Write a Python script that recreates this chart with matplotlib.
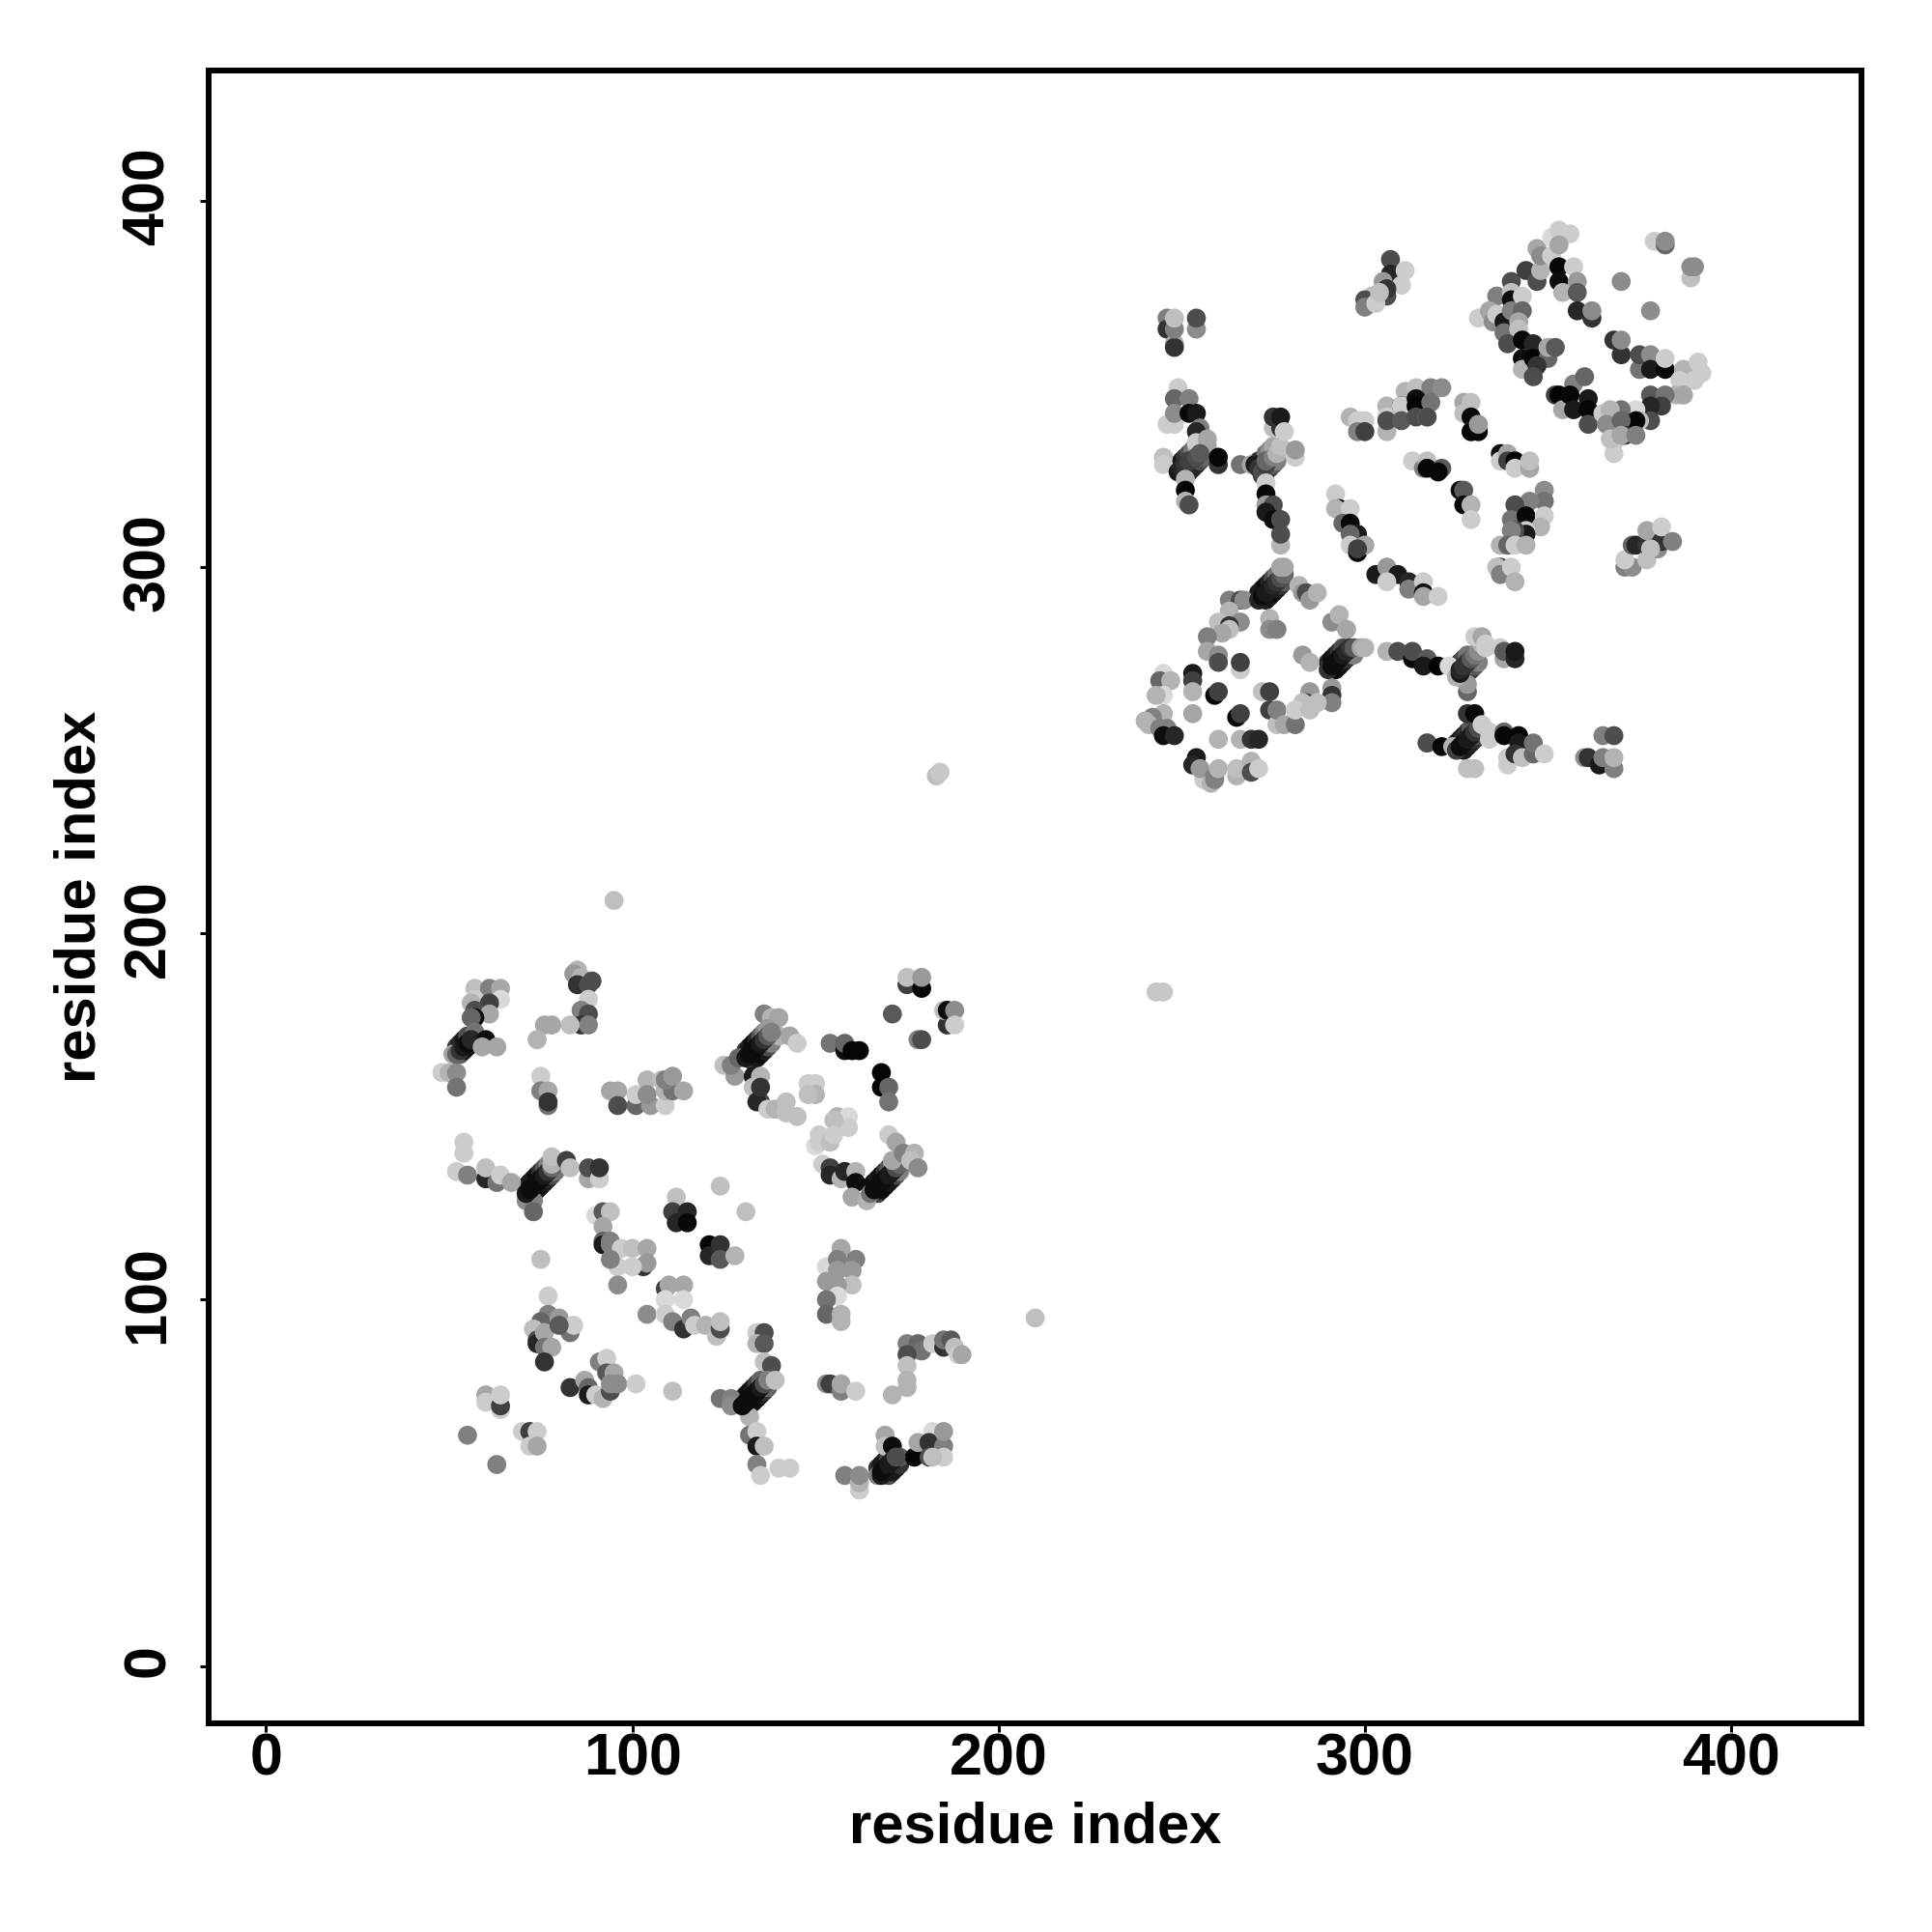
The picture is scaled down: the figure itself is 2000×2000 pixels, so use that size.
import matplotlib
matplotlib.use("Agg")
import matplotlib.pyplot as plt
from matplotlib.transforms import ScaledTranslation

plt.rcParams['font.family'] = ['Liberation Sans', 'DejaVu Sans']

tick_values = [0, 100, 200, 300, 400]
axis_label = "residue index"

# contacts: (residue i, residue j, grey level)
outliers = [(95,209,.75),(210,95,.75),(183,243,.75),(184,244,.78),(243,184,.78),(245,184,.78),(124,131,.75),(131,124,.75)]
helix_low = [(53,167,.35),(54,168,.1),(55,169,.05),(56,170,.1),(57,171,.2),(52,169,.25),(53,170,.15),(54,171,.1),(55,172,.3),
             (73,129,.3),(74,130,.1),(75,131,.05),(76,132,.1),(77,133,.15),(78,134,.3),(79,135,.45),(71,131,.2),(72,132,.1),(73,133,.1),(74,134,.05),(75,135,.2),(76,136,.35),(77,137,.5),
             (132,71,.3),(133,72,.1),(134,73,.05),(135,74,.1),(136,75,.2),(137,76,.4),(130,73,.2),(131,74,.1),(132,75,.05),(133,76,.1),(134,77,.25),(135,78,.4),
             (170,52,.3),(171,53,.1),(172,54,.1),(173,55,.2),(167,54,.2),(168,55,.1),(169,56,.1),(170,57,.25),
             (133,165,.3),(134,166,.1),(135,167,.05),(136,168,.1),(137,169,.3),(138,170,.5),(131,168,.2),(132,169,.1),(133,170,.05),(134,171,.15),(135,172,.35),(136,173,.5),
             (167,129,.25),(168,130,.05),(169,131,.05),(170,132,.1),(171,133,.1),(172,134,.3),(173,135,.5),(165,131,.2),(166,132,.05),(167,133,.1),(168,134,.05),(169,135,.2),(170,136,.35),(171,137,.5)]
helix_up = [(251,325,.2),(252,326,.1),(253,327,.15),(254,328,.15),(255,329,.3),(256,330,.4),(249,328,.15),(250,329,.1),(251,330,.2),(252,331,.3),(253,332,.45),(254,333,.6),
            (272,325,.25),(273,326,.2),(274,327,.25),(275,328,.35),(276,329,.5),(271,329,.2),(272,329,.3),(273,331,.45),(274,332,.55),(275,333,.65),
            (273,291,.1),(274,292,.1),(275,293,.05),(276,294,.1),(277,295,.2),(278,296,.35),(271,293,.1),(272,294,.1),(273,295,.05),(274,296,.15),(275,297,.3),(276,298,.45),
            (292,272,.05),(293,273,.05),(294,274,.1),(295,275,.2),(296,276,.3),(297,276,.5),(290,274,.15),(291,275,.05),(292,276,.1),(293,277,.2),(294,278,.3),
            (327,270,.15),(328,271,.15),(329,272,.25),(330,273,.35),(331,274,.5),(325,272,.2),(326,274,.2),(327,275,.3),(328,276,.45),
            (327,250,.1),(328,251,.1),(329,252,.15),(330,253,.2),(331,254,.3),(332,255,.5),(325,252,.2),(326,253,.1),(327,254,.15),(328,255,.2),(329,256,.35)]
low_a = [(48,162,.8),(50,162,.7),(52,162,.55),(52,158,.45),(57,185,.75),(61,185,.5),(64,185,.65),(64,182,.85),(57,182,.8),(56,181,.7),(61,181,.25),(57,179,.3),(61,178,.65),(57,177,.05),(56,177,.4),(57,173,.45),(51,167,.65),(52,167,.4),(53,168,.2),(54,169,.1),(55,170,.05),(56,171,.15),(60,171,.05),(59,169,.65),(63,169,.65)]
low_b = [(85,190,.7),(84,189,.6),(86,188,.7),(85,186,.2),(88,186,.3),(89,187,.3),(88,182,.8),(86,179,.5),(88,178,.3),(86,175,.2),(88,175,.5),(83,175,.75),(78,175,.65),(76,175,.65),(74,171,.7)]
low_c = [(75,161,.8),(75,157,.5),(77,157,.65),(77,153,.45),(77,154,.2)]
low_d = [(94,157,.65),(96,157,.65),(96,153,.3),(101,153,.4),(101,156,.8),(105,153,.6),(104,160,.7),(108,160,.75),(109,153,.8),(104,156,.55),(109,157,.7),(111,157,.45),(109,160,.5),(111,161,.6),(114,157,.65)]
low_e = [(54,143,.8),(54,140,.8),(52,135,.8),(55,134,.5),(60,133,.15),(60,136,.75),(63,132,.45),(64,134,.8),(67,132,.65),(71,127,.55),(73,127,.5),(73,124,.4),(71,129,.1),(72,130,.05),(73,131,.05),(74,132,.05),(75,133,.05),(76,134,.1),(77,135,.2),(78,136,.4),(78,137,.7),(78,139,.75),(82,138,.25),(83,136,.75),(88,133,.65),(88,136,.3),(91,133,.8),(91,136,.2)]
low_f = [(90,123,.85),(92,124,.35),(94,124,.75),(92,120,.65),(92,116,.4),(92,115,.1),(94,115,.5),(94,116,.5),(97,114,.8),(100,114,.75),(104,114,.65),(103,109,.2),(104,110,.6),(100,109,.8),(96,109,.8),(94,111,.5),(96,104,.55),(112,128,.75),(111,124,.25),(115,124,.15),(112,121,.15),(115,121,.03),(121,115,.02),(121,112,.15),(124,115,.2),(124,111,.35),(128,112,.7)]
low_g = [(104,96,.55),(109,103,.25),(110,104,.65),(114,104,.65),(114,100,.85),(109,100,.85),(109,96,.8),(111,94,.5),(114,92,.2),(116,95,.5),(117,93,.8),(120,93,.7),(123,90,.75),(124,92,.3),(124,94,.75)]
low_h = [(75,111,.75),(77,101,.8),(77,96,.5),(75,94,.4),(80,95,.6),(83,91,.45),(84,93,.8),(73,92,.75),(74,89,.3),(74,88,.15),(76,91,.65),(76,87,.45),(78,87,.65),(76,83,.2),(80,93,.35)]
low_j = [(83,76,.2),(87,78,.65),(88,76,.4),(88,74,.1),(90,74,.8),(92,73,.7),(91,83,.5),(93,84,.8),(93,80,.35),(95,80,.65),(94,75,.3),(94,77,.55),(96,77,.55),(101,77,.8),(111,75,.75)]
low_k = [(60,74,.65),(60,72,.8),(64,70,.8),(64,71,.25),(64,74,.8),(70,64,.8),(72,64,.25),(74,64,.8),(72,60,.8),(74,60,.65),(55,63,.5),(63,55,.5)]
low_l = [(157,114,.65),(153,109,.85),(156,111,.5),(161,111,.5),(160,108,.6),(160,104,.75),(153,105,.6),(156,108,.6),(156,104,.6),(156,101,.85),(153,100,.45),(153,96,.4),(157,96,.7),(157,94,.7)]
low_m = [(134,91,.8),(136,91,.3),(134,88,.7),(136,88,.35),(136,83,.75),(138,82,.3),(124,73,.45),(127,73,.5),(127,71,.55),(132,68,.7),(130,71,.05),(131,72,.05),(132,73,.05),(133,74,.05),(134,75,.05),(135,76,.1),(136,77,.3),(137,78,.5),(139,78,.75),(132,63,.45),(134,64,.8),(134,60,.1),(136,60,.75),(134,55,.5),(135,52,.8),(140,54,.8),(143,54,.8)]
low_n = [(153,77,.55),(154,77,.25),(157,75,.5),(157,77,.65),(161,75,.8)]
low_o = [(175,88,.5),(178,88,.4),(179,86,.45),(182,88,.8),(185,87,.2),(185,89,.45),(187,89,.35),(188,87,.75),(189,85,.8),(190,85,.65),(175,85,.3),(175,82,.75),(175,78,.7),(175,76,.7),(171,74,.7)]
low_p = [(169,63,.65),(169,60,.75),(171,60,.05),(173,57,.35),(177,57,.02),(178,61,.65),(182,64,.85),(181,61,.2),(185,60,.5),(185,64,.6),(185,57,.8),(181,57,.3),(182,57,.75),(167,52,.5),(168,52,.1),(168,53,.05),(169,54,.05),(170,55,.1),(171,56,.1),(172,57,.3),(158,52,.5),(162,48,.8),(162,50,.7),(162,52,.55)]
low_q = [(125,164,.75),(128,161,.6),(127,164,.5),(129,166,.4),(136,178,.5),(138,177,.7),(140,177,.65),(137,174,.6),(140,172,.7),(143,172,.65),(145,170,.8),(131,166,.1),(132,167,.05),(133,168,.05),(134,169,.05),(135,170,.1),(136,171,.2),(137,172,.35),(138,173,.5),(133,161,.1),(135,161,.7),(133,158,.75),(135,154,.3),(134,154,.15),(135,158,.2),(137,152,.8),(139,152,.7),(142,154,.75),(142,151,.75),(145,150,.75),(148,159,.8),(150,159,.8),(150,156,.7),(148,156,.75)]
low_s = [(154,170,.45),(158,168,.05),(158,170,.4),(160,168,.02),(162,168,.02),(168,162,.02),(168,158,.02),(170,158,.4),(170,154,.45),(171,178,.35),(178,171,.5),(179,171,.3),(175,186,.25),(175,188,.75),(179,185,.03),(179,188,.6),(186,175,.2),(185,179,.75),(186,179,.05),(188,179,.55),(188,175,.8)]
low_r = [(156,150,.7),(159,150,.85),(159,147,.8),(155,149,.75),(151,145,.8),(150,142,.85),(151,143,.8),(154,143,.75),(155,145,.8),(152,137,.8),(154,136,.25),(154,134,.15),(157,133,.7),(158,135,.15),(161,135,.7),(161,132,.05),(160,128,.65),(164,127,.7),(165,129,.45),(166,130,.05),(167,131,.05),(168,132,.05),(169,133,.05),(170,134,.1),(171,135,.1),(172,136,.3),(173,137,.4),(171,138,.65),(170,145,.8),(172,143,.65),(174,140,.5),(177,140,.7),(176,138,.75),(178,136,.55)]

up_a = [(246,368,.5),(246,365,.2),(248,361,.65),(248,360,.2),(248,365,.5),(248,368,.75),(254,365,.55),(254,368,.3)]
up_b = [(249,349,.8),(248,346,.4),(252,346,.5),(246,339,.8),(248,339,.8),(248,342,.55),(252,342,.03),(254,342,.1),(255,338,.5),(254,337,.15),(254,334,.8),(257,335,.65),(257,333,.65),(245,330,.75),(245,328,.8),(249,326,.1),(250,327,.15),(251,328,.2),(252,329,.25),(254,330,.3),(255,331,.35),(260,328,.2),(260,330,.02),(251,324,.7),(251,321,.02),(251,318,.7),(252,317,.3)]
up_c = [(266,328,.45),(269,328,.65),(270,328,.1),(271,327,.2),(272,326,.3),(273,328,.25),(273,329,.4),(275,330,.5),(276,331,.7),(277,333,.75),(281,330,.8),(281,332,.6),(275,338,.75),(275,341,.2),(277,338,.2),(277,341,.1),(278,337,.8),(273,323,.8),(273,320,.03),(273,317,.6),(275,317,.3),(273,315,.1),(275,313,.05),(277,313,.3),(277,306,.7),(277,309,.3)]
up_d = [(296,341,.7),(298,340,.8),(300,340,.8),(298,337,.5),(300,337,.25),(306,344,.7),(306,341,.8),(306,337,.7),(306,340,.3),(311,348,.7),(314,349,.75),(318,349,.5),(321,349,.55),(310,344,.1),(310,344,.8),(314,346,.05),(314,344,.02),(310,340,.35),(314,341,.3),(318,345,.45),(317,341,.65),(317,341,.3),(327,345,.65),(329,345,.75),(327,342,.75),(329,341,.03),(329,337,.75),(329,337,.02),(331,337,.03),(331,339,.6)]
up_e = [(313,329,.8),(316,327,.5),(317,329,.75),(317,327,.03),(321,327,.35),(320,326,.03),(337,331,.05),(337,329,.8),(339,331,.65),(339,329,.25),(341,329,.02),(341,327,.8),(345,327,.65),(345,329,.75),(326,321,.05),(327,321,.35),(327,317,.03),(329,317,.7),(329,313,.8)]
up_f = [(349,321,.55),(349,318,.45),(345,318,.5),(341,317,.65),(341,317,.3),(340,313,.45),(344,314,.03),(349,314,.8),(348,311,.7),(344,310,.8),(344,309,.1),(341,310,.3),(340,310,.5),(337,306,.7),(339,306,.4),(341,306,.8),(344,306,.7),(337,300,.3),(336,300,.75),(337,298,.5),(340,300,.8),(341,296,.7)]
up_g = [(371,300,.5),(373,300,.55),(371,302,.8),(373,306,.4),(374,306,.15),(377,302,.75),(377,306,.2),(377,310,.65),(380,305,.55),(381,307,.2),(381,311,.8),(378,305,.75),(384,307,.5)]
up_h = [(303,298,.1),(306,300,.6),(309,298,.1),(306,296,.8),(312,296,.15),(312,294,.5),(316,296,.8),(316,293,.05),(316,292,.65),(320,292,.8),(292,320,.8),(293,316,.03),(292,316,.7),(296,316,.8),(294,312,.4),(296,312,.03),(298,309,.1),(296,309,.4),(296,306,.8),(298,304,.03),(300,306,.65),(298,305,.25)]
up_i = [(307,384,.3),(307,380,.15),(311,381,.8),(305,378,.6),(310,377,.8),(306,374,.3),(302,374,.75),(300,373,.3),(300,371,.5),(303,372,.8),(306,376,.2),(304,375,.75)]
up_j = [(331,368,.8),(336,374,.5),(334,370,.65),(335,368,.65),(335,367,.55),(336,369,.8),(340,378,.3),(340,375,.75),(340,373,.05),(338,367,.1),(340,370,.5),(338,364,.45),(343,374,.8),(343,370,.4),(342,367,.65),(342,365,.75),(339,361,.3),(343,362,.03),(346,361,.15),(343,357,.05),(343,354,.7),(346,357,.02),(350,357,.4),(350,360,.65),(352,360,.35),(347,355,.2),(346,352,.3),(344,381,.25),(347,378,.3),(348,381,.7)]
up_k = [(347,387,.65),(348,385,.55),(351,385,.8),(351,390,.85),(353,392,.8),(356,391,.8),(353,388,.65),(353,382,.03),(357,382,.8),(353,378,.05),(358,378,.6),(354,375,.7),(358,375,.35),(358,370,.15),(362,368,.2),(362,370,.55)]
up_l = [(370,378,.55),(378,370,.55),(379,389,.8),(382,388,.4),(382,389,.55),(389,379,.75),(389,382,.55),(390,382,.55),(368,362,.2),(370,358,.2),(370,362,.55),(375,354,.8),(375,354,.45),(375,358,.3),(378,358,.55),(378,354,.1),(382,354,.03),(382,357,.8)]
up_m = [(387,354,.7),(389,353,.7),(391,356,.8),(392,353,.8),(390,351,.8),(386,351,.8),(385,347,.7),(387,347,.65),(378,347,.35),(382,347,.45),(381,344,.25),(378,344,.15),(378,340,.3),(374,343,.85),(370,343,.45),(375,340,.75),(374,340,.02)]
up_n = [(352,347,.25),(353,347,.02),(354,343,.65),(357,350,.5),(360,352,.4),(356,347,.03),(357,343,.1),(361,346,.1),(361,343,.02),(361,339,.3),(365,342,.8),(367,343,.7),(368,338,.55),(366,339,.55),(368,334,.8),(368,331,.8),(367,335,.75),(370,340,.4),(371,336,.2),(370,336,.65),(374,336,.5)]
up_o = [(283,276,.6),(285,274,.7),(263,291,.5),(266,291,.3),(267,291,.55),(274,286,.7),(274,283,.55),(276,283,.5),(271,291,.15),(272,292,.05),(273,293,.1),(274,294,.1),(275,295,.15),(276,296,.2),(277,297,.3),(278,298,.4),(277,300,.65),(278,300,.65),(282,295,.7),(283,293,.6),(284,293,.3),(285,291,.6),(287,293,.7)]
up_p = [(263,288,.7),(266,285,.55),(260,285,.75),(263,284,.2),(263,283,.75),(261,282,.65),(257,281,.5),(257,277,.65),(260,276,.55),(260,274,.3),(266,272,.8),(266,274,.25),(253,271,.1),(253,269,.25),(253,266,.7),(259,265,.02),(260,266,.25),(253,260,.65),(272,266,.75),(274,266,.25),(265,259,.03),(266,260,.25),(274,261,.25),(276,257,.75),(276,261,.5),(278,257,.65),(281,257,.45),(260,253,.7),(266,253,.7),(269,253,.2),(271,253,.15)]
up_q = [(291,285,.55),(293,287,.7),(295,283,.65),(290,272,.2),(291,273,.05),(292,274,.05),(293,275,.05),(294,276,.1),(295,277,.15),(296,278,.2),(297,278,.35),(299,278,.65),(300,278,.7),(291,267,.6),(291,265,.2),(291,263,.5),(285,266,.6),(284,263,.25),(283,263,.75),(281,261,.8),(287,263,.75),(285,261,.75)]
up_r = [(245,271,.85),(244,269,.4),(247,269,.7),(245,265,.85),(243,265,.7),(245,260,.7),(242,259,.5),(240,258,.7),(241,257,.7),(244,256,.5),(246,256,.5),(245,254,.05),(248,254,.15),(254,248,.1),(253,246,.15),(256,242,.8),(258,241,.7),(259,242,.5),(255,245,.6),(259,243,.5),(260,245,.7),(265,243,.7),(265,245,.75),(269,247,.7),(269,244,.3),(271,245,.8)]
up_s = [(306,277,.7),(309,277,.3),(313,275,.03),(313,277,.3),(317,275,.35),(316,273,.1),(320,273,.02),(323,273,.85),(328,266,.4),(328,268,.6),(325,270,.7),(326,271,.1),(326,272,.15),(327,273,.2),(328,274,.2),(329,275,.35),(330,276,.45),(331,277,.55),(332,279,.7),(330,281,.8),(332,281,.65),(333,279,.8),(333,278,.8),(337,278,.8),(338,275,.65),(338,277,.35),(341,275,.15),(341,277,.1)]
up_t = [(317,252,.55),(317,252,.3),(321,251,.03),(324,251,.7),(325,250,.25),(326,251,.05),(327,252,.05),(328,253,.1),(329,254,.1),(330,255,.2),(331,256,.3),(328,260,.2),(330,260,.03),(332,257,.8),(334,255,.8),(334,253,.8),(338,255,.4),(338,254,.03),(342,254,.02),(342,252,.1),(339,248,.8),(339,246,.8),(341,249,.2),(343,248,.75),(346,249,.4),(346,252,.45),(349,249,.8),(328,245,.75),(330,245,.75),(365,254,.5),(368,254,.3),(360,248,.55),(361,248,.2),(364,246,.1),(365,248,.5),(368,245,.5),(368,248,.7)]

clusters = [helix_low, helix_up, outliers, low_a, low_b, low_c, low_d, low_e, low_f, low_g, low_h, low_j, low_k, low_l, low_m, low_n,
            low_o, low_p, low_q, low_s, low_r, up_a, up_b, up_c, up_d, up_e, up_f, up_g, up_h, up_i, up_j, up_k,
            up_l, up_m, up_n, up_o, up_p, up_q, up_r, up_s, up_t]

fig = plt.figure(figsize=(10, 10), dpi=200, facecolor='white')
ax = fig.add_axes([216.3/2000, 1 - 1783.7/2000, (1927 - 216.3)/2000, (1783.7 - 73)/2000])
for cluster in clusters:
    xs = [c[0] for c in cluster]
    ys = [c[1] for c in cluster]
    gs = [str(c[2]) for c in cluster]
    ax.scatter(xs, ys, s=50, c=gs, linewidths=0, zorder=3)

ax.set_xlim(-15.6, 435.6)
ax.set_ylim(-15.6, 435.6)
ax.set_xticks(tick_values)
ax.set_yticks(tick_values)
ax.set_xticklabels([str(v) for v in tick_values], fontsize=22, fontweight='bold')
ax.set_yticklabels([str(v) for v in tick_values], fontsize=22, fontweight='bold', rotation=90, va='center')
ax.tick_params(axis='both', length=3.2, width=1.1)
ax.tick_params(axis='x', pad=0.5)
ax.tick_params(axis='y', pad=8.8)
shift = ScaledTranslation(0, 5/200, fig.dpi_scale_trans)
for lab in ax.get_yticklabels():
    lab.set_transform(lab.get_transform() + shift)
for s in ax.spines.values():
    s.set_linewidth(2.16)
ax.set_xlabel(axis_label, fontsize=21.5, fontweight='bold', labelpad=5)
ax.set_ylabel(axis_label, fontsize=21.5, fontweight='bold', labelpad=5.6)
fig.savefig("out.png", dpi=200)
